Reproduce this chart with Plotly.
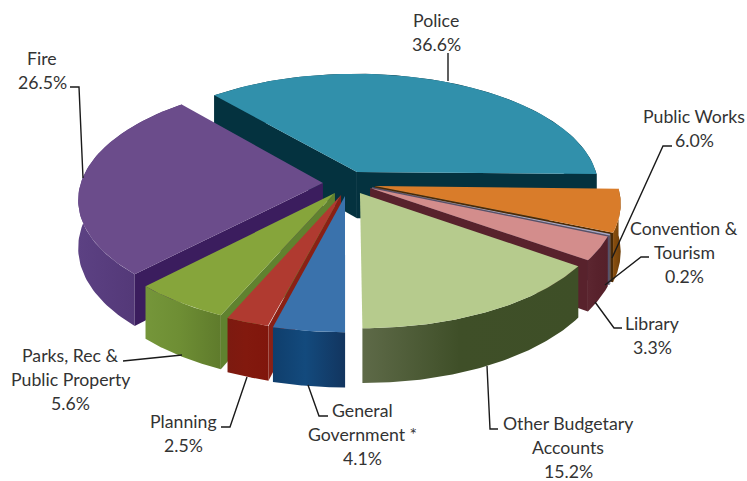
import numpy as np
import plotly.graph_objects as go

# Budget shares, clockwise from the Police slice
names = ["Police", "Public Works", "Convention &<br>Tourism", "Library", "Other Budgetary<br>Accounts",
         "General<br>Government *", "Planning", "Parks, Rec &<br>Public Property", "Fire"]
values = [36.6, 6.0, 0.2, 3.3, 15.2, 4.1, 2.5, 5.6, 26.5]

# Explosion of each slice on the ground plane (unit = pie radius)
shift_u = [0.050, 0.123, 0.111, 0.103, 0.061, 0.000, -0.016, -0.041, -0.091]
shift_v = [0.124, 0.000, -0.009, -0.017, -0.060, -0.086, -0.078, -0.060, 0.026]

top_colors = ["#3190AB", "#D97C2A", "#A3A6C6", "#D38D8C", "#B6CB8D", "#3A72AC", "#B03A30", "#86A53B", "#6B4C8B"]
cut_colors = ["#04323F", "#4A2A06", "#55506A", "#58222C", "#66803F", "#1D4E80", "#8A2015", "#60822F", "#3B1D5E"]
wall_left = ["#04323F", "#8A4F0E", "#8A8AA2", "#5C2630", "#5E6A48", "#0F3E6C", "#7C1A10", "#75963A", "#5C4183"]
wall_mid = ["#04323F", "#7E480C", "#8A8AA2", "#58222C", "#3F4F28", "#134A7D", "#82190E", "#6E8E34", "#553A7A"]
wall_right = ["#04323F", "#6E3F0A", "#8A8AA2", "#55202A", "#3E4F27", "#12355F", "#80160C", "#5F7B2C", "#4D3470"]

# Label lines' centres and leader polylines, in pixels of the 747x481 canvas
label_x = [436, 694, 684, 652, 568, 362, 183, 70, 42]
label_y = [20, 116, 228, 323, 423, 410, 421, 355, 58]
leaders = [
    [(448, 53), (448, 81)],
    [(672, 146), (663, 146), (612, 258)],
    [(649, 257), (641, 257), (605, 285)],
    [(622, 328), (614, 328), (595, 302)],
    [(498, 429), (490, 429), (487, 366)],
    [(328, 416), (319, 416), (308, 385)],
    [(221, 427), (230, 427), (247, 377)],
    [(123, 361), (182, 355)],
    [(70, 87), (79, 87), (83, 178)],
]

# Perspective camera for the tilted disc
CX, CY, A, B, K, HEIGHT = 345, 186, 243, 115, 0.135, 47
START_ANGLE = -40.7


def project(u, v, depth=0.0):
    w = 1 + K * np.asarray(v, dtype=float)
    return CX + A * np.asarray(u) / w, CY - B * np.asarray(v) / w + depth * HEIGHT / w


def patch(xs, ys, color=None, gradient=None):
    kwargs = dict(fillcolor=color) if gradient is None else dict(
        fillgradient=dict(type="horizontal",
                          colorscale=[[0, gradient[0]], [0.45, gradient[1]], [1, gradient[2]]]))
    return go.Scatter(x=list(xs), y=list(ys), mode="lines", fill="toself", line=dict(width=0),
                      hoverinfo="skip", showlegend=False, **kwargs)


fractions = np.array(values) / sum(values)
ends = START_ANGLE + 360 * np.cumsum(fractions)
starts = ends - 360 * fractions


def slice_traces(i):
    theta = np.radians(np.linspace(starts[i], ends[i], 80))
    u = shift_u[i] + np.sin(theta)
    v = shift_v[i] + np.cos(theta)
    au, av = shift_u[i], shift_v[i]
    out = []
    # Rim
    x0, y0 = project(u, v)
    x1, y1 = project(u, v, 1)
    out.append(patch(np.r_[x0, x1[::-1]], np.r_[y0, y1[::-1]],
                     gradient=(wall_left[i], wall_mid[i], wall_right[i])))
    # Radial cut faces, only those turned towards the camera
    face_normals = [starts[i] - 90, ends[i] + 90]
    for k, normal in zip((0, -1), face_normals):
        if np.cos(np.radians(normal)) < -1e-3:
            px, py = project([au, u[k]], [av, v[k]])
            qx, qy = project([u[k], au], [v[k], av], 1)
            out.append(patch(np.r_[px, qx], np.r_[py, qy], color=cut_colors[i]))
    # Top face
    tx, ty = project(np.r_[au, u], np.r_[av, v])
    out.append(patch(tx, ty, color=top_colors[i]))
    return out


fig = go.Figure()
# Painted far to near so nearer slices cover what is behind them
for i in [0, 1, 2, 3, 4, 8, 7, 6, 5]:
    fig.add_traces(slice_traces(i))

for pts in leaders:
    fig.add_trace(go.Scatter(x=[p[0] for p in pts], y=[p[1] for p in pts], mode="lines",
                             line=dict(color="#1A1A1A", width=1.4), hoverinfo="skip", showlegend=False))

LINE_STEP = 24
for name, val, lx, ly in zip(names, values, label_x, label_y):
    lines = name.split("<br>") + [f"{val:.1f}%"]
    for n, text in enumerate(lines):
        fig.add_annotation(x=lx, y=ly + n * LINE_STEP, text=text, showarrow=False, xanchor="center",
                           yanchor="middle", font=dict(family="Lato", size=17.7, color="#333333"))

fig.update_layout(
    width=747, height=481, margin=dict(l=0, r=0, t=0, b=0),
    paper_bgcolor="white", plot_bgcolor="white", showlegend=False,
    xaxis=dict(range=[0, 747], visible=False, fixedrange=True),
    yaxis=dict(range=[481, 0], visible=False, fixedrange=True),
)
fig.write_html("out.html", config=dict(displayModeBar=False))
